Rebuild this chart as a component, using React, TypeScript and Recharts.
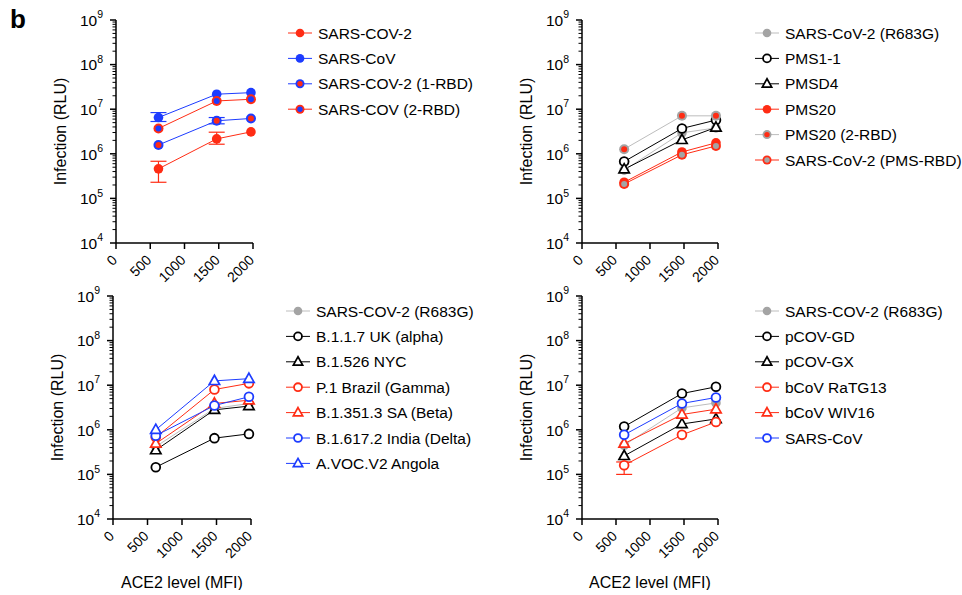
import React from 'react';
import { LineChart, Line, XAxis, YAxis, ErrorBar, Legend } from 'recharts';

const FONT = '"Liberation Sans", Arial, Helvetica, sans-serif';
const RED = '#ff2c14';
const BLUE = '#1d3cff';
const GRAY = '#a4a4a4';
const GRAY_LINE = '#bdbdbd';
const BLACK = '#000000';

// ACE2 levels (MFI) used for every series
const aceLevels = [620, 1470, 1970];
const xTicks = [0, 500, 1000, 1500, 2000];
const decades = [1e4, 1e5, 1e6, 1e7, 1e8];
const minorSteps = [1, 2, 3, 4, 5, 6, 7, 8, 9];

// panel 1
const sars2 = [4.6e5, 2.16e6, 3.1e6];
const sars2Err = [[2.3e5, 2.2e5], [5.2e5, 8.9e5], null];
const sarsCov = [6.5e6, 2.17e7, 2.35e7];
const sarsCovErr = [[1.2e6, 1.9e6], null, null];
const sars2Rbd1 = [1.58e6, 5.5e6, 6.2e6];
const sars2Rbd1Err = [null, [8e5, 1.0e6], null];
const sarsRbd2 = [3.7e6, 1.53e7, 1.67e7];

// panel 2
const r683gB = [4.3e5, 2.96e6, 3.8e6];
const pms11 = [6.7e5, 3.7e6, 5.7e6];
const pmsd4 = [4.5e5, 2.05e6, 3.9e6];
const pms20 = [2.3e5, 1.1e6, 1.76e6];
const pms20Rbd2 = [1.27e6, 7.1e6, 7.1e6];
const sars2PmsRbd = [2.1e5, 9.5e5, 1.5e6];

// panel 3
const r683gC = [4.2e5, 3.0e6, 3.9e6];
const ukAlpha = [1.45e5, 6.5e5, 8.1e5];
const nyc = [3.5e5, 2.8e6, 3.4e6];
const brazilGamma = [6.8e5, 8.0e6, 1.1e7];
const saBeta = [4.9e5, 3.9e6, 4.6e6];
const indiaDelta = [7.4e5, 3.5e6, 5.5e6];
const angola = [1.0e6, 1.25e7, 1.4e7];

// panel 4
const r683gD = [4.5e5, 3.1e6, 4.0e6];
const pcovGd = [1.18e6, 6.5e6, 9.2e6];
const pcovGx = [2.6e5, 1.35e6, 1.75e6];
const ratg13 = [1.6e5, 7.7e5, 1.5e6];
const ratg13Err = [[6e4, 3e4], null, null];
const wiv16 = [4.9e5, 2.2e6, 2.9e6];
const sarsCovD = [7.7e5, 3.9e6, 5.3e6];

type Kind = 'fill' | 'open' | 'tri' | 'dual';
interface Series {
  name: string;
  values: number[];
  err?: (number[] | null)[];
  kind: Kind;
  color: string;
  inner?: string;
  line: string;
}

const panelA: Series[] = [
  { name: 'SARS-COV-2', values: sars2, err: sars2Err, kind: 'fill', color: RED, line: RED },
  { name: 'SARS-CoV', values: sarsCov, err: sarsCovErr, kind: 'fill', color: BLUE, line: BLUE },
  { name: 'SARS-COV-2 (1-RBD)', values: sars2Rbd1, err: sars2Rbd1Err, kind: 'dual', color: BLUE, inner: RED, line: BLUE },
  { name: 'SARS-COV (2-RBD)', values: sarsRbd2, kind: 'dual', color: RED, inner: BLUE, line: RED },
];

const panelB: Series[] = [
  { name: 'SARS-CoV-2 (R683G)', values: r683gB, kind: 'fill', color: GRAY, line: GRAY_LINE },
  { name: 'PMS1-1', values: pms11, kind: 'open', color: BLACK, line: BLACK },
  { name: 'PMSD4', values: pmsd4, kind: 'tri', color: BLACK, line: BLACK },
  { name: 'PMS20', values: pms20, kind: 'fill', color: RED, line: RED },
  { name: 'PMS20 (2-RBD)', values: pms20Rbd2, kind: 'dual', color: GRAY, inner: RED, line: GRAY_LINE },
  { name: 'SARS-CoV-2 (PMS-RBD)', values: sars2PmsRbd, kind: 'dual', color: RED, inner: GRAY, line: RED },
];

const panelC: Series[] = [
  { name: 'SARS-COV-2 (R683G)', values: r683gC, kind: 'fill', color: GRAY, line: GRAY_LINE },
  { name: 'B.1.1.7 UK (alpha)', values: ukAlpha, kind: 'open', color: BLACK, line: BLACK },
  { name: 'B.1.526 NYC', values: nyc, kind: 'tri', color: BLACK, line: BLACK },
  { name: 'P.1 Brazil (Gamma)', values: brazilGamma, kind: 'open', color: RED, line: RED },
  { name: 'B.1.351.3 SA (Beta)', values: saBeta, kind: 'tri', color: RED, line: RED },
  { name: 'B.1.617.2 India (Delta)', values: indiaDelta, kind: 'open', color: BLUE, line: BLUE },
  { name: 'A.VOC.V2 Angola', values: angola, kind: 'tri', color: BLUE, line: BLUE },
];

const panelD: Series[] = [
  { name: 'SARS-COV-2 (R683G)', values: r683gD, kind: 'fill', color: GRAY, line: GRAY_LINE },
  { name: 'pCOV-GD', values: pcovGd, kind: 'open', color: BLACK, line: BLACK },
  { name: 'pCOV-GX', values: pcovGx, kind: 'tri', color: BLACK, line: BLACK },
  { name: 'bCoV RaTG13', values: ratg13, err: ratg13Err, kind: 'open', color: RED, line: RED },
  { name: 'bCoV WIV16', values: wiv16, kind: 'tri', color: RED, line: RED },
  { name: 'SARS-CoV', values: sarsCovD, kind: 'open', color: BLUE, line: BLUE },
];

const yTicks = [...decades.flatMap((d) => minorSteps.map((m) => m * d)), 1e9];

const Marker = ({ cx, cy, s, small }: { cx: number; cy: number; s: Series; small?: boolean }) => {
  const k = small ? 0.9 : 1;
  if (s.kind === 'fill') return <circle cx={cx} cy={cy} r={4.8 * k} fill={s.color} />;
  if (s.kind === 'open')
    return <circle cx={cx} cy={cy} r={4.4 * k} fill="#fff" stroke={s.color} strokeWidth={1.8} />;
  if (s.kind === 'tri')
    return (
      <path
        d={`M${cx},${cy - 5.6 * k} L${cx + 5.2 * k},${cy + 3.6 * k} L${cx - 5.2 * k},${cy + 3.6 * k} Z`}
        fill="#fff"
        stroke={s.color}
        strokeWidth={1.7}
      />
    );
  return (
    <g>
      <circle cx={cx} cy={cy} r={5 * k} fill={s.color} />
      <circle cx={cx} cy={cy} r={3 * k} fill={s.inner} />
    </g>
  );
};

const YTick = (p: any) => {
  const { x, y, payload } = p;
  const ax = x + 6;
  const e = Math.log10(payload.value);
  const major = Math.abs(e - Math.round(e)) < 1e-6;
  return (
    <g>
      <line x1={ax - (major ? 6 : 3.5)} x2={ax} y1={y} y2={y} stroke="#000" strokeWidth={major ? 1.5 : 1} />
      {major && (
        <text x={ax - 13} y={y + 5.7} textAnchor="end" fontSize={15.5} fontFamily={FONT} fill="#000">
          10
          <tspan dy={-7.5} fontSize={10.5}>
            {Math.round(e)}
          </tspan>
        </text>
      )}
    </g>
  );
};

const XTick = (p: any) => {
  const { x, y, payload } = p;
  const ay = y - 6;
  const tx = x + 2;
  const ty = ay + 18;
  return (
    <g>
      <line x1={x} x2={x} y1={ay} y2={ay + 6} stroke="#000" strokeWidth={1.5} />
      <text x={tx} y={ty} transform={`rotate(-45 ${tx} ${ty})`} textAnchor="end" fontSize={14} fontFamily={FONT} fill="#000">
        {payload.value}
      </text>
    </g>
  );
};

const LegendBox = ({ series }: { series: Series[] }) => (
  <svg width={240} height={200} style={{ display: 'block', overflow: 'visible' }}>
    {series.map((s, i) => {
      const cy = 12 + i * 25.4;
      return (
        <g key={s.name}>
          <line x1={3} x2={27} y1={cy} y2={cy} stroke={s.line} strokeWidth={1} />
          <Marker cx={15} cy={cy} s={s} small />
          <text x={33} y={cy + 5.5} fontSize={15.5} fontFamily={FONT} fill="#000">
            {s.name}
          </text>
        </g>
      );
    })}
  </svg>
);

interface PanelProps {
  series: Series[];
  left: number;
  top: number;
  width: number;
  height: number;
  yWidth: number;
  xHeight: number;
  right: number;
  legendLeft: number;
  legendTop: number;
  xLabel?: boolean;
}

const Panel = ({ series, left, top, width, height, yWidth, xHeight, right, legendLeft, legendTop, xLabel }: PanelProps) => {
  const rows = aceLevels.map((x, i) => {
    const row: Record<string, any> = { x };
    series.forEach((s, k) => {
      row[`s${k}`] = s.values[i];
      row[`e${k}`] = s.err ? s.err[i] : null;
    });
    return row;
  });
  return (
    <div style={{ position: 'absolute', left, top }}>
      <LineChart width={width} height={height} data={rows} margin={{ top: 20, right, bottom: 0, left: 0 }}>
        <XAxis
          dataKey="x"
          type="number"
          domain={[0, 2000]}
          ticks={xTicks}
          interval={0}
          tick={<XTick />}
          tickLine={false}
          tickSize={6}
          tickMargin={0}
          height={xHeight}
          axisLine={{ stroke: '#000', strokeWidth: 1.5 }}
          label={
            xLabel
              ? {
                  content: (p: any) => {
                    const vb = p.viewBox;
                    return (
                      <text x={vb.x + vb.width / 2} y={vb.y + 69} textAnchor="middle" fontSize={16} fontFamily={FONT} fill="#000">
                        ACE2 level (MFI)
                      </text>
                    );
                  },
                }
              : undefined
          }
        />
        <YAxis
          type="number"
          scale="log"
          domain={[1e4, 1e9]}
          allowDataOverflow
          ticks={yTicks}
          interval={0}
          tick={<YTick />}
          tickLine={false}
          tickSize={6}
          tickMargin={0}
          width={yWidth}
          axisLine={{ stroke: '#000', strokeWidth: 1.5 }}
          label={{
            content: (p: any) => {
              const vb = p.viewBox;
              const cx = vb.x + vb.width - 56;
              const cy = vb.y + vb.height / 2;
              return (
                <text
                  x={cx}
                  y={cy}
                  transform={`rotate(-90 ${cx} ${cy})`}
                  textAnchor="middle"
                  dominantBaseline="central"
                  fontSize={16}
                  fontFamily={FONT}
                  fill="#000"
                >
                  Infection (RLU)
                </text>
              );
            },
          }}
        />
        {series.map((s, k) => (
          <Line
            key={s.name}
            dataKey={`s${k}`}
            stroke={s.line}
            strokeWidth={1}
            isAnimationActive={false}
            activeDot={false}
            dot={(d: any) => <Marker key={`${s.name}-${d.index}`} cx={d.cx} cy={d.cy} s={s} />}
          >
            {s.err && <ErrorBar dataKey={`e${k}`} width={8} stroke={s.line} strokeWidth={1.2} direction="y" />}
          </Line>
        ))}
        <Legend
          layout="vertical"
          align="center"
          verticalAlign="middle"
          wrapperStyle={{ left: legendLeft, top: legendTop, width: 240, height: 200 }}
          content={() => <LegendBox series={series} />}
        />
      </LineChart>
    </div>
  );
};

export default function App() {
  return (
    <div style={{ position: 'absolute', left: 0, top: 0, width: 962, height: 595, background: '#fff', fontFamily: FONT }}>
      <div style={{ position: 'absolute', left: 10, top: 4, fontSize: 26, fontWeight: 'bold', fontFamily: FONT }}>b</div>
      <Panel series={panelA} left={0} top={0} width={480} height={290} yWidth={116} xHeight={47} right={227} legendLeft={285} legendTop={20.7} />
      <Panel series={panelB} left={480} top={0} width={482} height={290} yWidth={102} xHeight={47} right={244} legendLeft={272} legendTop={20.7} />
      <Panel series={panelC} left={0} top={276} width={480} height={314} yWidth={113} xHeight={71} right={229} legendLeft={283} legendTop={22.7} xLabel />
      <Panel series={panelD} left={480} top={276} width={482} height={314} yWidth={102} xHeight={71} right={244} legendLeft={272} legendTop={22.7} xLabel />
    </div>
  );
}
